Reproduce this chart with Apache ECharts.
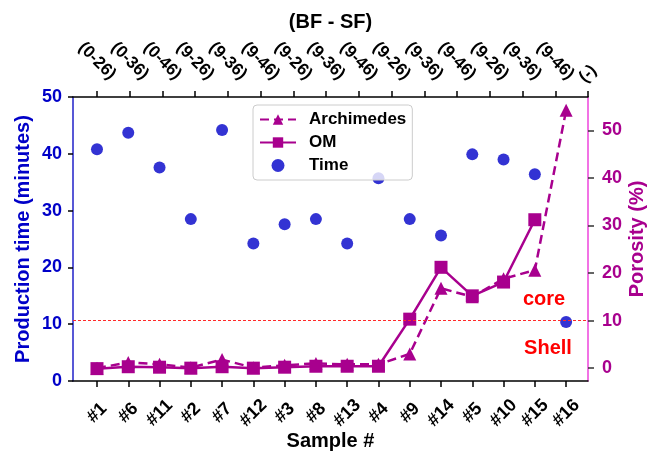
<!DOCTYPE html>
<html>
<head>
<meta charset="utf-8">
<script src="https://cdn.jsdelivr.net/npm/echarts@6/dist/echarts.min.js"></script>
<style>
html,body{margin:0;padding:0;background:#fff;}
#chart{width:649px;height:455px;}
</style>
</head>
<body>
<div id="chart"></div>
<script>
// ---- data ----
var categories = ['#1','#6','#11','#2','#7','#12','#3','#8','#13','#4','#9','#14','#5','#10','#15','#16'];
var topLabels = ['(0-26)','(0-36)','(0-46)','(9-26)','(9-36)','(9-46)','(9-26)','(9-36)','(9-46)','(9-26)','(9-36)','(9-46)','(9-26)','(9-36)','(9-46)','(-)'];
var timeValues = [40.8, 43.7, 37.6, 28.5, 44.2, 24.2, 27.6, 28.5, 24.2, 35.7, 28.5, 25.6, 39.9, 39.0, 36.4, 10.4];
var archimedesValues = [0.0, 1.2, 0.8, 0.1, 1.8, 0.1, 0.6, 1.0, 0.8, 0.8, 3.0, 16.8, 15.0, 18.8, 20.6, 54.2];
var omValues = [-0.1, 0.3, 0.2, 0.0, 0.3, 0.0, 0.2, 0.4, 0.4, 0.4, 10.3, 21.2, 15.2, 18.1, 31.2, null];
var leftTicks = [0, 10, 20, 30, 40, 50];
var rightTicks = [0, 10, 20, 30, 40, 50];
var boundaryValue = 10;

var FONT = "'Liberation Sans', Arial, sans-serif";
var PURPLE = '#a8008e';
var BLUE = '#0000c8';

function toPairs(arr) {
  var out = [];
  for (var i = 0; i < arr.length; i++) {
    if (arr[i] !== null && arr[i] !== undefined) out.push([i + 1, arr[i]]);
  }
  return out;
}
var positions = categories.map(function (c, i) { return i + 1; });
var lastPos = positions[positions.length - 1];
var topLabelPositions = positions.slice(0, positions.length - 1);

var chart = echarts.init(document.getElementById('chart'), null, {renderer: 'canvas'});
chart.setOption({
  animation: false,
  backgroundColor: '#fff',
  grid: {left: 73, right: 61, top: 97, bottom: 74, containLabel: false, outerBoundsMode: 'none'},
  legend: {
    left: 253, top: 105,
    orient: 'vertical',
    data: ['Archimedes', 'OM', 'Time'],
    itemWidth: 36, itemHeight: 13, itemGap: 6,
    padding: [6, 6, 6, 6],
    backgroundColor: 'rgba(255,255,255,0.8)',
    borderColor: '#cccccc', borderWidth: 1, borderRadius: 4,
    textStyle: {fontFamily: FONT, fontWeight: 'bold', fontSize: 17, color: '#000', padding: [0, 0, 0, 8]}
  },
  xAxis: [
    {
      type: 'value', position: 'bottom',
      min: 0.233, max: 16.70,
      name: 'Sample #', nameLocation: 'middle', nameGap: 50, nameMoveOverlap: false,
      nameTextStyle: {fontFamily: FONT, fontWeight: 'bold', fontSize: 20, color: '#000'},
      axisLine: {show: true, onZero: false, lineStyle: {color: '#000', width: 1.5}},
      axisTick: {show: true, customValues: positions, length: 6, lineStyle: {color: '#000', width: 1.5}},
      splitLine: {show: false},
      axisLabel: {
        customValues: positions,
        rotate: 45, align: 'center', verticalAlign: 'middle', margin: 32,
        fontFamily: FONT, fontWeight: 'bold', fontSize: 18, color: '#000',
        formatter: function (v) { return categories[Math.round(v) - 1] || ''; }
      }
    },
    {
      type: 'value', position: 'top',
      min: 0.267, max: 16,
      name: '(BF - SF)', nameLocation: 'middle', nameGap: 65, nameMoveOverlap: false,
      nameTextStyle: {fontFamily: FONT, fontWeight: 'bold', fontSize: 20, color: '#000'},
      axisLine: {show: true, onZero: false, lineStyle: {color: '#000', width: 1.5}},
      axisTick: {show: true, customValues: positions, length: 6, lineStyle: {color: '#000', width: 1.5}},
      splitLine: {show: false},
      axisLabel: {
        customValues: topLabelPositions,
        rotate: 45, align: 'center', verticalAlign: 'middle', margin: 36,
        fontFamily: FONT, fontWeight: 'bold', fontSize: 17, color: '#000',
        formatter: function (v) { return topLabels[Math.round(v) - 1] || ''; }
      }
    }
  ],
  yAxis: [
    {
      type: 'value', position: 'left',
      min: 0, max: 50, interval: 10,
      name: 'Production time (minutes)', nameLocation: 'middle', nameGap: 40, nameMoveOverlap: false,
      nameTextStyle: {fontFamily: FONT, fontWeight: 'bold', fontSize: 20, color: BLUE},
      axisLine: {show: true, onZero: false, lineStyle: {color: '#2020c8', width: 1.5}},
      axisTick: {show: true, length: 5, lineStyle: {color: '#000', width: 1.5}},
      splitLine: {show: false},
      axisLabel: {
        customValues: leftTicks,
        margin: 11, fontFamily: FONT, fontWeight: 'bold', fontSize: 18, color: BLUE
      }
    },
    {
      type: 'value', position: 'right',
      min: -2.7, max: 57,
      name: 'Porosity (%)', nameLocation: 'middle', nameGap: 39, nameMoveOverlap: false,
      nameTextStyle: {fontFamily: FONT, fontWeight: 'bold', fontSize: 20, color: PURPLE},
      axisLine: {show: true, onZero: false, lineStyle: {color: '#ee44dd', width: 1.5}},
      axisTick: {show: true, customValues: rightTicks, length: 6, lineStyle: {color: '#333', width: 1.5}},
      splitLine: {show: false},
      axisLabel: {
        customValues: rightTicks,
        margin: 14, fontFamily: FONT, fontWeight: 'bold', fontSize: 18, color: PURPLE
      }
    }
  ],
  series: [
    {
      name: 'Time', type: 'scatter', xAxisIndex: 0, yAxisIndex: 0,
      data: toPairs(timeValues),
      symbol: 'circle', symbolSize: 12,
      itemStyle: {color: BLUE},
      z: 3
    },
    {
      name: 'OM', type: 'line', xAxisIndex: 0, yAxisIndex: 1,
      data: toPairs(omValues),
      symbol: 'rect', symbolSize: 13,
      lineStyle: {color: PURPLE, width: 2.5, type: 'solid'},
      itemStyle: {color: PURPLE},
      z: 2,
      markLine: {
        silent: true, symbol: ['none', 'none'],
        label: {show: false},
        lineStyle: {color: '#ff2a2a', type: [3, 2], width: 1, opacity: 1},
        data: [{yAxis: boundaryValue}]
      }
    },
    {
      name: 'Archimedes', type: 'line', xAxisIndex: 0, yAxisIndex: 1,
      data: toPairs(archimedesValues),
      symbol: 'triangle', symbolSize: 13,
      lineStyle: {color: PURPLE, width: 2.5, type: [9, 5]},
      itemStyle: {color: PURPLE},
      z: 2
    }
  ]
});

// last top tick label: placed at the library-computed position of the last top tick
var lastX = chart.convertToPixel({xAxisIndex: 1}, lastPos);
var topY = chart.convertToPixel({yAxisIndex: 0}, 50);
chart.setOption({
  graphic: [
    {type: 'text', x: lastX, y: topY - 23, rotation: Math.PI / 4, z: 10,
      style: {text: topLabels[topLabels.length - 1], fill: '#000', font: 'bold 17px ' + FONT, align: 'center', verticalAlign: 'middle'}},
    {type: 'text', x: 544, y: 299, z: 10,
      style: {text: 'core', fill: '#ff0000', font: 'bold 20px ' + FONT, align: 'center', verticalAlign: 'middle'}},
    {type: 'text', x: 548, y: 348, z: 10,
      style: {text: 'Shell', fill: '#ff0000', font: 'bold 20px ' + FONT, align: 'center', verticalAlign: 'middle'}}
  ]
});
</script>
</body>
</html>
